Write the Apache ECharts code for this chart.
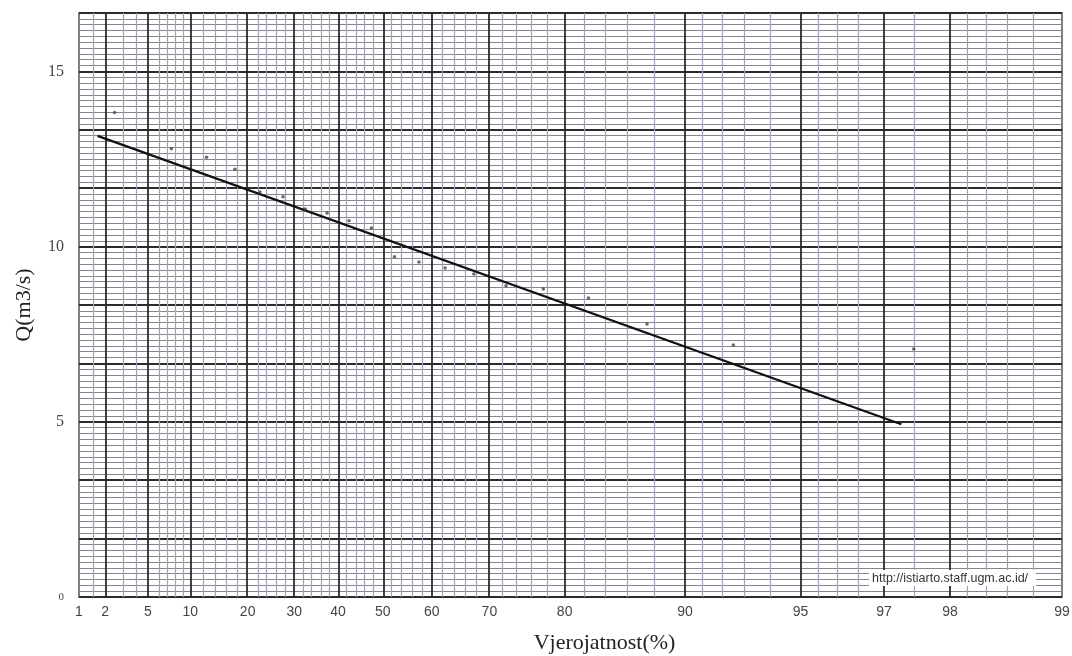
<!DOCTYPE html>
<html>
<head>
<meta charset="utf-8">
<script src="https://cdn.jsdelivr.net/npm/echarts@6/dist/echarts.min.js"></script>
<style>
  html, body { margin: 0; padding: 0; background: #fff; }
  #main { width: 1072px; height: 656px; }
</style>
</head>
<body>
<div id="main"></div>
<script>
// probability paper (Gumbel) - labelled probabilities on x
const probLabels = [1, 2, 5, 10, 20, 30, 40, 50, 60, 70, 80, 90, 95, 97, 98, 99];
const probMajor = [2, 5, 10, 20, 30, 40, 50, 60, 70, 80, 90, 95, 97, 98];
const probMinor = [1.5, 3, 4, 6, 7, 8, 9, 12, 14, 16, 18, 22, 24, 26, 28, 32, 34, 36, 38,
  42, 44, 46, 48, 52, 54, 56, 58, 62, 64, 66, 68, 72, 74, 76, 78, 82, 84, 86, 88,
  91, 92, 93, 94, 95.5, 96, 96.5, 97.5, 98.2, 98.4, 98.6, 98.8];

// measured points
const pointP = [2.5, 7.5, 12.5, 17.5, 22.5, 27.5, 32.5, 37.5, 42.5, 47.5,
  52.5, 57.5, 62.5, 67.5, 72.5, 77.5, 82.5, 87.5, 92.5, 97.5];
const pointQ = [13.83, 12.79, 12.55, 12.21, 11.56, 11.42, 11.07, 10.96, 10.74, 10.53,
  9.71, 9.56, 9.39, 9.22, 8.88, 8.79, 8.53, 7.79, 7.19, 7.08];

// fitted line ends
const fitP = [1.65, 97.3];
const fitQ = [13.16, 4.93];

const yLabels = [0, 5, 10, 15];

// gumbel reduced variate
const gum = p => -Math.log(-Math.log(p / 100));
const toP = v => 100 * Math.exp(-Math.exp(-v));

let vLines = [];
probMinor.forEach(p => vLines.push({ xAxis: gum(p), lineStyle: { color: '#a0a0b6', width: 1.2, type: 'solid' } }));
probMajor.forEach(p => vLines.push({ xAxis: gum(p), lineStyle: { color: '#2b2b2b', width: 1.8, type: 'solid' } }));

let option = {
  animation: false,
  backgroundColor: '#fff',
  grid: {
    left: 79,
    right: 10,
    top: 13,
    bottom: 59,
    outerBoundsMode: 'none',
    containLabel: false,
    show: true,
    borderColor: '#555',
    borderWidth: 1.5,
    backgroundColor: 'transparent'
  },
  xAxis: {
    type: 'value',
    min: gum(1),
    max: gum(99),
    name: 'Vjerojatnost(%)',
    nameLocation: 'middle',
    nameGap: 35,
    nameTextStyle: {
      fontFamily: 'Liberation Serif',
      fontSize: 22,
      color: '#222',
      padding: [0, 0, 0, 68]
    },
    axisLine: { show: false },
    axisTick: { show: false },
    splitLine: { show: false },
    axisLabel: {
      customValues: probLabels.map(gum),
      formatter: v => String(Math.round(toP(v))),
      fontFamily: 'Liberation Sans',
      fontSize: 14,
      color: '#444',
      margin: 8,
      showMinLabel: true,
      showMaxLabel: true
    }
  },
  yAxis: {
    type: 'value',
    min: 0,
    max: 50 / 3,
    interval: 5 / 3,
    name: 'Q(m3/s)',
    nameLocation: 'middle',
    nameGap: 44,
    nameTextStyle: {
      fontFamily: 'Liberation Serif',
      fontSize: 22,
      color: '#222'
    },
    axisLine: { show: false },
    axisTick: { show: false },
    axisLabel: {
      margin: 15,
      fontFamily: 'Liberation Serif',
      fontSize: 16,
      color: '#444',
      showMaxLabel: false,
      formatter: v => {
        let k = Math.round(v / 5) * 5;
        if (Math.abs(v - k) > 1e-6 || yLabels.indexOf(k) < 0) return '';
        return k === 0 ? '{s|0}' : String(k);
      },
      rich: { s: { fontSize: 11, fontFamily: 'Liberation Serif', color: '#444' } }
    },
    splitLine: { show: true, lineStyle: { color: '#2b2b2b', width: 1.8 } },
    minorTick: { show: false, splitNumber: 10 },
    minorSplitLine: { show: true, lineStyle: { color: '#85858f', width: 1.2 } }
  },
  series: [
    {
      name: 'grid',
      type: 'scatter',
      silent: true,
      data: [],
      z: 1,
      markLine: {
        silent: true,
        symbol: ['none', 'none'],
        label: { show: false },
        emphasis: { disabled: true },
        data: vLines
      }
    },
    {
      name: 'fit',
      type: 'line',
      data: fitP.map((p, i) => [gum(p), fitQ[i]]),
      symbol: 'none',
      lineStyle: { color: '#111', width: 2.2 },
      z: 5
    },
    {
      name: 'points',
      type: 'scatter',
      data: pointP.map((p, i) => [gum(p), pointQ[i]]),
      symbol: 'circle',
      symbolSize: 3.5,
      itemStyle: { color: '#444' },
      z: 6
    }
  ],
  graphic: [
    {
      type: 'group',
      left: 869,
      top: 570,
      z: 100,
      children: [
        { type: 'rect', z: 100, shape: { x: 0, y: 0, width: 167, height: 16 }, style: { fill: '#fff' } },
        {
          type: 'text', z: 101, x: 3, y: 2,
          style: { text: 'http://istiarto.staff.ugm.ac.id/', font: '12.5px "Liberation Sans"', fill: '#333' }
        }
      ]
    }
  ]
};

let myChart = echarts.init(document.getElementById('main'));
myChart.setOption(option);
</script>
</body>
</html>
